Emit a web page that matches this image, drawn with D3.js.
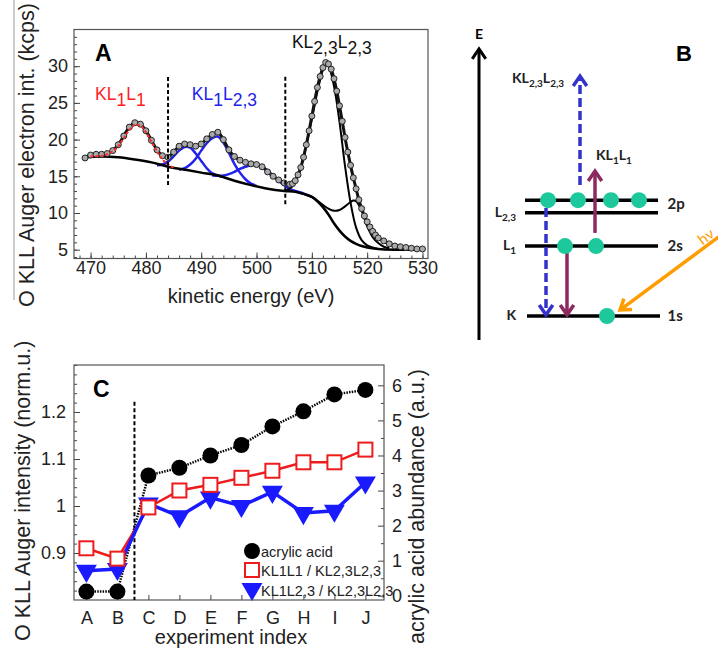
<!DOCTYPE html>
<html>
<head>
<meta charset="utf-8">
<script src="https://cdn.jsdelivr.net/npm/d3@7"></script>
<style>
  body { margin: 0; background: #fff; }
  text { font-family: "Liberation Sans", Arial, Helvetica, sans-serif; }
  .diag text { font-family: Lato, "Open Sans", sans-serif; font-weight: 700; }
</style>
</head>
<body>
<div class="chart"></div>
<script>
// ---------- panel A : O KLL spectrum ----------
var measured = [
  [469,17.5],[470,17.9],[471,18.0],[472,18.0],[473,18.1],[474,18.5],[475,19.3],[476,20.5],[477,21.7],[478,22.3],
  [479,22.1],[480,21.2],[481,19.9],[482,18.6],[483,17.8],[484,17.6],[485,18.3],[486,19.1],[487,19.4],[488,19.3],
  [489,19.1],[490,19.4],[491,20.1],[492,20.7],[493,21.0],[494,20.0],[495,18.6],[496,17.7],[497,17.2],[498,16.9],
  [499,16.7],[500,16.6],[501,16.3],[502,15.6],[503,15.0],[504,14.5],[505,14.1],[506,13.9],[506.5,14.0],[507,14.4],
  [507.5,15.2],[508,16.2],[508.5,17.6],[509,19.3],[509.5,21.2],[510,23.2],[510.5,25.2],[511,27.1],[511.5,28.6],
  [512,29.8],[512.5,30.5],[513,30.3],[513.5,29.6],[514,28.3],[514.5,26.6],[515,24.6],[515.5,22.5],[516,20.3],
  [516.5,18.3],[517,16.5],[517.5,14.8],[518,13.3],[518.5,11.8],[519,10.6],[519.5,9.6],[520,8.8],[520.5,8.1],
  [521,7.5],[521.5,7.0],[522,6.6],[523,6.2],[524,5.8],[525,5.5],[526,5.4],[527,5.3],[528,5.2],[529,5.1],[530,5.1]
];
var background = [
  [469,17.6],[472,17.7],[475,17.6],[478,17.3],[481,16.9],[484,16.3],[487,15.9],[490,15.5],[493,15.1],[496,14.4],
  [499,13.8],[502,13.3],[505,13.0],[507,12.9],[508.5,12.6],[510,12.2],[511,11.6],[512,10.8],[513,9.8],[514,8.6],
  [515,7.6],[516,6.8],[517,6.2],[518,5.8],[519,5.5],[520,5.3],[522,5.1],[525,5.0],[530,5.0]
];
var peakKL1L1 = [
  [470,17.7],[472,17.8],[473,18.0],[474,18.4],[475,19.1],[476,20.2],[477,21.3],[478,22.0],[479,21.9],[480,21.0],
  [481,19.7],[482,18.4],[483,17.3],[484,16.6],[485,16.2]
];
var peakKL1L23a = [
  [482,16.5],[483,16.6],[484,17.0],[485,17.7],[486,18.5],[487,19.0],[488,18.9],[489,18.1],[490,17.1],[491,16.1],
  [492,15.4],[493,15.1],[494,14.9]
];
var peakKL1L23b = [
  [486,15.9],[487,16.1],[488,16.6],[489,17.4],[490,18.5],[491,19.5],[492,20.2],[493,20.4],[494,19.6],[495,18.2],
  [496,16.7],[497,15.5],[498,14.6],[499,14.0],[500,13.7]
];
var peakKL1L23c = [
  [492,15.1],[494,15.1],[495,15.3],[496,15.6],[497,16.0],[498,16.3],[499,16.5],[500,16.5],[501,16.3],[502,15.8],
  [503,15.1],[504,14.4],[505,13.8],[506,13.3],[507,13.0],[508,12.8],[509,12.5],[510,12.2]
];
var peakKL23main = [
  [505,13.0],[506,13.3],[507,14.2],[508,16.2],[509,19.2],[510,22.8],[511,26.5],[512,29.5],[512.5,30.2],[513,30.0],
  [514,27.3],[515,22.4],[516,16.4],[517,11.4],[518,8.0],[519,6.3],[520,5.6],[521,5.3],[522,5.1]
];
var peakKL23side = [
  [508,12.7],[509,12.5],[510,12.2],[511,11.7],[512,11.1],[513,10.6],[514,10.3],[515,10.4],[516,10.9],[517,11.5],
  [517.5,11.7],[518,11.6],[519,10.3],[520,8.2],[521,6.7],[522,5.9],[523,5.4],[524,5.2]
];
var xTicksA = [470, 480, 490, 500, 510, 520, 530];
var yTicksA = [5, 10, 15, 20, 25, 30];
var dividersA = [[484, 13.8, 28.7], [505.2, 11.2, 28.7]];
var labelsA = [
  { parts: [["K",0],["L",0],["1",1],["L",0],["1",1]], at: [470.8, 25.4], color: "#ff2222" },
  { parts: [["K",0],["L",0],["1",1],["L",0],["2,3",1]], at: [488.3, 25.4], color: "#2222ee" },
  { parts: [["K",0],["L",0],["2,3",1],["L",0],["2,3",1]], at: [506.4, 32.5], color: "#111" }
];

// ---------- panel C : experiment series ----------
var experiments = ["A","B","C","D","E","F","G","H","I","J"];
var acrylicAcid = [0.12, 0.12, 3.43, 3.65, 4.0, 4.3, 4.83, 5.26, 5.74, 5.87];
var ratioKL1L1 = [0.91, 0.888, 0.997, 1.033, 1.045, 1.06, 1.075, 1.093, 1.093, 1.12];
var ratioKL1L23 = [0.862, 0.866, 1.005, 0.978, 1.018, 1.0, 1.03, 0.985, 0.99, 1.05];
var yTicksCL = [0.9, 1, 1.1, 1.2];
var yTicksCR = [0, 1, 2, 3, 4, 5, 6];
var legendC = ["acrylic acid", "KL1L1 / KL2,3L2,3", "KL1L2,3 / KL2,3L2,3"];

// ---------- panel B : level diagram (schematic units) ----------
var levels = [
  { y: 46.6, x1: 22, x2: 75.2 }, { y: 42.4, x1: 22, x2: 75.2 },
  { y: 31.3, x1: 22, x2: 75.2 }, { y: 8, x1: 22.8, x2: 76 }
];
var electrons = [[31.2,46.6],[43.2,46.6],[56.4,46.6],[67.6,46.6],[38,31.3],[50.4,31.3],[54.8,8]];
var transitions = [
  { x1: 44, y1: 51.7, x2: 44, y2: 88, color: "#3333cc", dash: true },
  { x1: 50, y1: 35.7, x2: 50, y2: 56.3, color: "#8c2a60", dash: false },
  { x1: 30.4, y1: 44, x2: 30.4, y2: 8.4, color: "#3333cc", dash: true },
  { x1: 38.8, y1: 29.3, x2: 38.8, y2: 8.4, color: "#8c2a60", dash: false },
  { x1: 100.5, y1: 35, x2: 60, y2: 10, color: "#ff9c00", dash: false }
];
var levelNames = [
  { parts: [["L",0],["2,3",1]], at: [18.4, 42.4] },
  { parts: [["L",0],["1",1]], at: [18.4, 31.3] },
  { parts: [["K",0]], at: [18.4, 8] }
];
var orbitals = [["2p", 45.4], ["2s", 31.3], ["1s", 8]];

var svg = d3.select(".chart")
  .append("svg")
  .attr("width", 718)
  .attr("height", 648);

// subscript helper: parts are [text, isSub]
function rich(t, parts, shift, subSize) {
  var cur = 0;
  parts.forEach(function (p) {
    var target = p[1] ? shift : 0;
    var s = t.append("tspan").text(p[0]).attr("dy", target - cur);
    if (p[1] && subSize) s.attr("font-size", subSize);
    cur = target;
  });
}

function styleAxis(g, size) {
  g.select(".domain").remove();
  g.selectAll(".tick line").attr("stroke", "#444").attr("stroke-width", 1);
  g.selectAll(".tick text").attr("font-size", size).attr("fill", "#222")
    .style("font-family", "'Liberation Sans', Arial, sans-serif");
}

// thin rule on the left of the figure
svg.append("line").attr("x1", 14).attr("x2", 14).attr("y1", 0).attr("y2", 300)
  .attr("stroke", "#999").attr("stroke-width", 1);

// ================= A =================
var xA = d3.scaleLinear().domain([467, 531]).range([74, 428]);
var yA = d3.scaleLinear().domain([3.8, 35]).range([258.5, 29.5]);
var gA = svg.append("g");

gA.append("g").attr("transform", "translate(0,258.5)")
  .call(d3.axisBottom(xA).tickValues(d3.range(468, 531, 2)).tickSizeInner(-3).tickSizeOuter(0).tickFormat(""))
  .call(styleAxis, 16);
gA.append("g").attr("transform", "translate(0,258.5)")
  .call(d3.axisBottom(xA).tickValues(xTicksA).tickSizeInner(-6).tickSizeOuter(0).tickPadding(3))
  .call(styleAxis, 18);
gA.append("g").attr("transform", "translate(74,0)")
  .call(d3.axisLeft(yA).tickValues(d3.range(4, 35, 1)).tickSizeInner(-3).tickSizeOuter(0).tickFormat(""))
  .call(styleAxis, 16);
gA.append("g").attr("transform", "translate(74,0)")
  .call(d3.axisLeft(yA).tickValues(yTicksA).tickSizeInner(-6).tickSizeOuter(0).tickPadding(6))
  .call(styleAxis, 18);

gA.append("rect").attr("x", 74).attr("y", 29.5).attr("width", 354).attr("height", 229)
  .attr("fill", "none").attr("stroke", "#555").attr("stroke-width", 1.2);

var lineA = d3.line().x(d => xA(d[0])).y(d => yA(d[1])).curve(d3.curveCatmullRom);

[peakKL1L23a, peakKL1L23b, peakKL1L23c].forEach(function (p) {
  gA.append("path").datum(p).attr("d", lineA)
    .attr("fill", "none").attr("stroke", "#2222ee").attr("stroke-width", 2.5);
});
gA.append("path").datum(background).attr("d", lineA)
  .attr("fill", "none").attr("stroke", "#000").attr("stroke-width", 2.5);
[peakKL23main, peakKL23side].forEach(function (p) {
  gA.append("path").datum(p).attr("d", lineA)
    .attr("fill", "none").attr("stroke", "#000").attr("stroke-width", 2);
});
gA.append("path").datum(measured).attr("d", lineA)
  .attr("fill", "none").attr("stroke", "#111").attr("stroke-width", 3);
gA.selectAll("circle.pt").data(measured).enter().append("circle")
  .attr("class", "pt")
  .attr("cx", d => xA(d[0])).attr("cy", d => yA(d[1])).attr("r", 3)
  .attr("fill", "#aaa").attr("stroke", "#222").attr("stroke-width", 1);
gA.append("path").datum(peakKL1L1).attr("d", lineA)
  .attr("fill", "none").attr("stroke", "#ff2a2a").attr("stroke-width", 2)
  .attr("stroke-dasharray", "3,2");

dividersA.forEach(function (d) {
  gA.append("line").attr("x1", xA(d[0])).attr("x2", xA(d[0]))
    .attr("y1", yA(d[1])).attr("y2", yA(d[2]))
    .attr("stroke", "#000").attr("stroke-width", 2).attr("stroke-dasharray", "4,2.5");
});

labelsA.forEach(function (l) {
  var t = gA.append("text").attr("x", xA(l.at[0])).attr("y", yA(l.at[1]))
    .attr("font-size", 17.5).attr("fill", l.color);
  rich(t, l.parts, 6.5);
});

gA.append("text").attr("x", 95).attr("y", 61).attr("font-size", 23).attr("font-weight", "bold").text("A");

gA.append("text").attr("transform", "translate(34,307) rotate(-90)")
  .attr("font-size", 21.5).attr("fill", "#222")
  .text("O KLL Auger electron int. (kcps)");
gA.append("text").attr("x", 251).attr("y", 303).attr("text-anchor", "middle")
  .attr("font-size", 20).attr("fill", "#222").text("kinetic energy (eV)");

// ================= C =================
var xC = d3.scaleLinear().domain([0.6, 10.6]).range([74, 384]);
var yCL = d3.scaleLinear().domain([0.8, 1.3]).range([600, 365]);
var yCR = d3.scaleLinear().domain([-0.12, 6.58]).range([600, 365]);
var gC = svg.append("g");

gC.append("g").attr("transform", "translate(0,600)")
  .call(d3.axisBottom(xC).tickValues(d3.range(1, 11)).tickSizeInner(-5).tickSizeOuter(0).tickPadding(11)
    .tickFormat(i => experiments[i - 1]))
  .call(styleAxis, 18);
gC.append("g").attr("transform", "translate(74,0)")
  .call(d3.axisLeft(yCL).tickValues(d3.range(0.82, 1.3, 0.02)).tickSizeInner(-3).tickSizeOuter(0).tickFormat(""))
  .call(styleAxis, 16);
gC.append("g").attr("transform", "translate(74,0)")
  .call(d3.axisLeft(yCL).tickValues(yTicksCL).tickSizeInner(-6).tickSizeOuter(0).tickPadding(8)
    .tickFormat(d3.format("~g")))
  .call(styleAxis, 18);
gC.append("g").attr("transform", "translate(384,0)")
  .call(d3.axisRight(yCR).tickValues(d3.range(0.5, 6.5, 1)).tickSizeInner(-3).tickSizeOuter(0).tickFormat(""))
  .call(styleAxis, 16);
gC.append("g").attr("transform", "translate(384,0)")
  .call(d3.axisRight(yCR).tickValues(yTicksCR).tickSizeInner(-6).tickSizeOuter(0).tickPadding(8)
    .tickFormat(d3.format("d")))
  .call(styleAxis, 18);

gC.append("rect").attr("x", 74).attr("y", 365).attr("width", 310).attr("height", 235)
  .attr("fill", "none").attr("stroke", "#555").attr("stroke-width", 1.2);

gC.append("line").attr("x1", xC(2.55)).attr("x2", xC(2.55)).attr("y1", yCL(1.222)).attr("y2", yCL(0.8))
  .attr("stroke", "#000").attr("stroke-width", 2).attr("stroke-dasharray", "4,2.5");

var idx = d3.range(1, 11);
var lineBlack = d3.line().x(i => xC(i)).y(i => yCR(acrylicAcid[i - 1]));
var lineRed = d3.line().x(i => xC(i)).y(i => yCL(ratioKL1L1[i - 1]));
var lineBlue = d3.line().x(i => xC(i)).y(i => yCL(ratioKL1L23[i - 1]));

gC.append("path").datum(idx).attr("d", lineBlack).attr("fill", "none")
  .attr("stroke", "#000").attr("stroke-width", 2.5).attr("stroke-dasharray", "1.5,1.2");
gC.append("path").datum(idx).attr("d", lineRed).attr("fill", "none")
  .attr("stroke", "#ee1c1c").attr("stroke-width", 2.5);
gC.append("path").datum(idx).attr("d", lineBlue).attr("fill", "none")
  .attr("stroke", "#1a1aff").attr("stroke-width", 3.5);

gC.selectAll("circle.aa").data(idx).enter().append("circle").attr("class", "aa")
  .attr("cx", i => xC(i)).attr("cy", i => yCR(acrylicAcid[i - 1])).attr("r", 8).attr("fill", "#000");
var tri = d3.symbol().type(d3.symbolTriangle).size(190);
gC.selectAll("path.tri").data(idx).enter().append("path").attr("class", "tri")
  .attr("d", tri)
  .attr("transform", i => "translate(" + xC(i) + "," + yCL(ratioKL1L23[i - 1]) + ") rotate(180)")
  .attr("fill", "#1a1aff");
gC.selectAll("rect.sq").data(idx).enter().append("rect").attr("class", "sq")
  .attr("x", i => xC(i) - 7).attr("y", i => yCL(ratioKL1L1[i - 1]) - 7)
  .attr("width", 14).attr("height", 14)
  .attr("fill", "#fff").attr("stroke", "#ee1c1c").attr("stroke-width", 2);

// legend
var leg = gC.append("g").attr("transform", "translate(252,551)");
leg.append("circle").attr("cx", 0).attr("cy", 0).attr("r", 8).attr("fill", "#000");
leg.append("rect").attr("x", -7).attr("y", 12).attr("width", 14).attr("height", 14)
  .attr("fill", "#fff").attr("stroke", "#ee1c1c").attr("stroke-width", 2);
leg.append("path").attr("d", tri).attr("transform", "translate(0,38) rotate(180)").attr("fill", "#1a1aff");
legendC.forEach(function (s, k) {
  leg.append("text").attr("x", 9).attr("y", 5.5 + k * 19.5).attr("font-size", 14.5).attr("fill", "#222").text(s);
});

gC.append("text").attr("x", 93).attr("y", 397).attr("font-size", 23).attr("font-weight", "bold").text("C");
gC.append("text").attr("transform", "translate(30,641) rotate(-90)")
  .attr("font-size", 21.5).attr("fill", "#222").text("O KLL Auger intensity (norm.u.)");
gC.append("text").attr("transform", "translate(424,644) rotate(-90)")
  .attr("font-size", 21.5).attr("fill", "#222").text("acrylic acid abundance (a.u.)");
gC.append("text").attr("x", 231).attr("y", 644).attr("text-anchor", "middle")
  .attr("font-size", 20).attr("fill", "#222").text("experiment index");

// ================= B =================
var xB = d3.scaleLinear().domain([0, 100]).range([470, 720]);
var yB = d3.scaleLinear().domain([0, 100]).range([340, 40]);
var gB = svg.append("g").attr("class", "diag");

function chevron(g, t, w) {
  var X1 = xB(t.x1), Y1 = yB(t.y1), X2 = xB(t.x2), Y2 = yB(t.y2);
  var a = Math.atan2(Y2 - Y1, X2 - X1), L = 12, s = 0.6;
  var p = [[X2 - L * Math.cos(a - s), Y2 - L * Math.sin(a - s)], [X2, Y2],
           [X2 - L * Math.cos(a + s), Y2 - L * Math.sin(a + s)]];
  g.append("path").attr("d", d3.line()(p)).attr("fill", "none")
    .attr("stroke", t.color).attr("stroke-width", w).attr("stroke-linejoin", "miter");
}

// energy axis
var eAxis = { x1: 3.6, y1: 0, x2: 3.6, y2: 97, color: "#000" };
gB.append("line").attr("x1", xB(eAxis.x1)).attr("x2", xB(eAxis.x2)).attr("y1", yB(eAxis.y1)).attr("y2", yB(eAxis.y2) + 1)
  .attr("stroke", "#000").attr("stroke-width", 3);
chevron(gB, eAxis, 3);
gB.append("text").attr("x", xB(3.6)).attr("y", yB(100.5)).attr("text-anchor", "middle")
  .attr("font-size", 14).text("E");

gB.selectAll("line.lv").data(levels).enter().append("line").attr("class", "lv")
  .attr("x1", d => xB(d.x1)).attr("x2", d => xB(d.x2)).attr("y1", d => yB(d.y)).attr("y2", d => yB(d.y))
  .attr("stroke", "#000").attr("stroke-width", 3.5);

transitions.forEach(function (t) {
  var len = Math.hypot(xB(t.x2) - xB(t.x1), yB(t.y2) - yB(t.y1));
  var ux = (xB(t.x2) - xB(t.x1)) / len, uy = (yB(t.y2) - yB(t.y1)) / len;
  gB.append("line").attr("x1", xB(t.x1)).attr("y1", yB(t.y1))
    .attr("x2", xB(t.x2) - ux * 2).attr("y2", yB(t.y2) - uy * 2)
    .attr("stroke", t.color).attr("stroke-width", 3.5)
    .attr("stroke-dasharray", t.dash ? "9,4" : null);
  chevron(gB, t, 3.5);
});

gB.selectAll("circle.el").data(electrons).enter().append("circle").attr("class", "el")
  .attr("cx", d => xB(d[0])).attr("cy", d => yB(d[1])).attr("r", 8).attr("fill", "#1dc99c");

levelNames.forEach(function (l) {
  var t = gB.append("text").attr("x", xB(l.at[0])).attr("y", yB(l.at[1]) + 4)
    .attr("text-anchor", "end").attr("font-size", 14).attr("fill", "#222");
  rich(t, l.parts, 4, 10);
});
orbitals.forEach(function (o) {
  gB.append("text").attr("x", xB(79)).attr("y", yB(o[1]) + 5).attr("font-size", 15).attr("fill", "#222").text(o[0]);
});

var kl23 = gB.append("text").attr("x", xB(16.8)).attr("y", yB(86.7) + 3).attr("font-size", 14).attr("fill", "#222");
rich(kl23, [["K",0],["L",0],["2,3",1],["L",0],["2,3",1]], 4, 10);
var kl11 = gB.append("text").attr("x", xB(50.4)).attr("y", yB(61) + 3).attr("font-size", 14).attr("fill", "#222");
rich(kl11, [["K",0],["L",0],["1",1],["L",0],["1",1]], 4, 10);

gB.append("text").attr("transform", "translate(" + xB(93) + "," + yB(31.5) + ") rotate(-36)")
  .attr("font-size", 15).attr("fill", "#ff9c00").style("font-weight", 400).text("hν");

svg.append("text").attr("x", 676).attr("y", 61).attr("font-size", 22).attr("font-weight", "bold")
  .style("font-family", "'Liberation Sans', Arial, sans-serif").text("B");
</script>
</body>
</html>
